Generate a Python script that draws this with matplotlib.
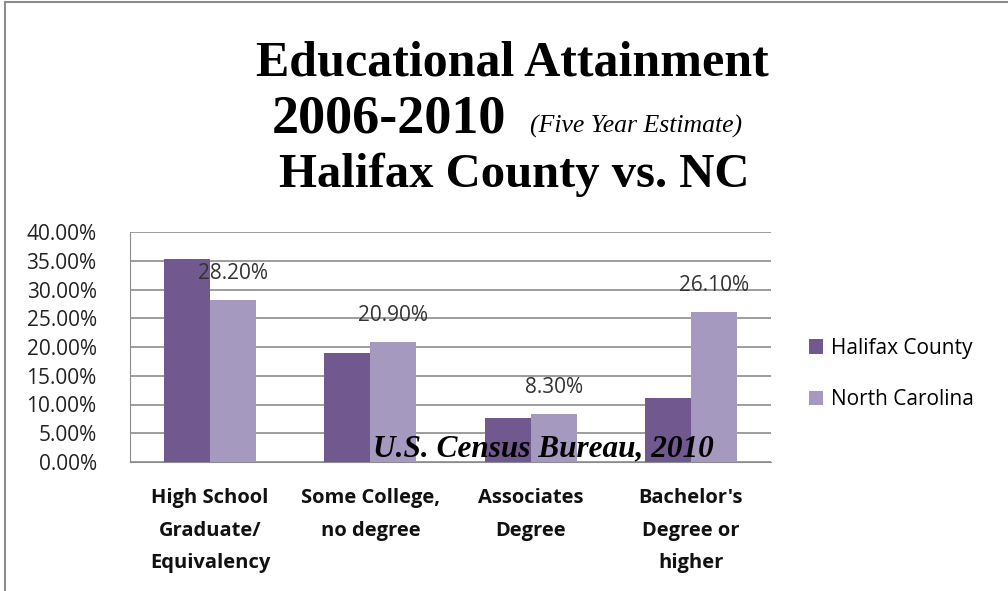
import numpy as np
import matplotlib.pyplot as plt
from matplotlib.patches import Rectangle
from matplotlib.ticker import FuncFormatter

# education levels and share of adults (percent)
categories = ["High School\nGraduate/\nEquivalency", "Some College,\nno degree",
              "Associates\nDegree", "Bachelor's\nDegree or\nhigher"]
halifax = [35.3, 19.0, 7.6, 11.2]
north_carolina = [28.2, 20.9, 8.3, 26.1]
series_names = ["Halifax County", "North Carolina"]
y_ticks = [0, 5, 10, 15, 20, 25, 30, 35, 40]

dark_purple = "#71588F"
light_purple = "#A699C0"
body_font = "Open Sans"

fig = plt.figure(figsize=(10.08, 5.91), dpi=100)
ax = fig.add_axes([130 / 1008, 1 - 462 / 591, 641 / 1008, 230 / 591])

x = np.arange(len(categories))
w = 0.2875
b1 = ax.bar(x - w / 2, halifax, w, color=dark_purple, label=series_names[0], zorder=3)
b2 = ax.bar(x + w / 2, north_carolina, w, color=light_purple, label=series_names[1], zorder=3)

# value labels on the state series only
for rect, v in zip(b2, north_carolina):
    ax.annotate(f"{v:.2f}%", (rect.get_x() + rect.get_width() / 2, v),
                xytext=(0, 19), textcoords="offset points", ha="center", va="center",
                fontsize=15, family=body_font, color="#333333", zorder=4)

ax.set_xlim(-0.5, len(categories) - 0.5)
ax.set_ylim(0, 40)
ax.set_yticks(y_ticks)
ax.yaxis.set_major_formatter(FuncFormatter(lambda v, p: f"{v:.2f}%"))
ax.yaxis.grid(True, color="#8c8c8c", linewidth=1.2, zorder=0)
ax.set_xticks(x)
ax.set_xticklabels(categories, fontsize=14.5, fontweight="bold", family=body_font,
                   linespacing=1.82)
ax.tick_params(axis="y", length=0, labelsize=15, pad=24, colors="#222222")
ax.tick_params(axis="x", length=0, pad=19, colors="#111111")
for lbl in ax.get_yticklabels():
    lbl.set_family(body_font)
for s in ["top", "right"]:
    ax.spines[s].set_visible(False)
ax.spines["left"].set_color("#8c8c8c")
ax.spines["bottom"].set_color("#8c8c8c")

ax.text(0.645, 0.055, "U.S. Census Bureau, 2010", ha="center", va="center",
        transform=ax.transAxes, family="Liberation Serif", fontweight="bold",
        fontstyle="italic", fontsize=22.5, color="black", zorder=5)

fig.legend(handles=[b1, b2], loc="center left", bbox_to_anchor=(790 / 1008, 1 - 374 / 591),
           frameon=False, prop={"family": body_font, "size": 15}, handlelength=0.7,
           handleheight=0.7, handletextpad=0.35, labelspacing=1.45)

# title block
fig.text(0.508, 1 - 64 / 591, "Educational Attainment", ha="center", va="center",
         family="Liberation Serif", fontweight="bold", fontsize=36)
fig.text(0.386, 1 - 120 / 591, "2006-2010", ha="center", va="center",
         family="Liberation Serif", fontweight="bold", fontsize=39)
fig.text(0.526, 1 - 126 / 591, "(Five Year Estimate)", ha="left", va="center",
         family="Liberation Serif", fontstyle="italic", fontsize=18.5)
fig.text(0.510, 1 - 175 / 591, "Halifax County vs. NC", ha="center", va="center",
         family="Liberation Serif", fontweight="bold", fontsize=35)

# outer frame of the chart area
fig.patches.append(Rectangle((5 / 1008, -0.05), 1.1, 1 - 2 / 591 + 0.05,
                             transform=fig.transFigure, fill=False,
                             edgecolor="#8c8c8c", linewidth=1.5))

fig.savefig("out.png", dpi=100)
